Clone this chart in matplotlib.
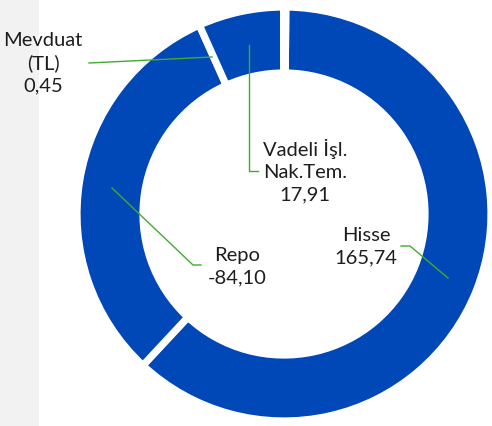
import numpy as np
import matplotlib.pyplot as plt
from matplotlib.patches import Rectangle

# Portfolio breakdown (values as shown on the chart)
names = ["Hisse", "Repo", "Vadeli İşl.\nNak.Tem.", "Mevduat\n(TL)"]
values = [165.74, -84.10, 17.91, 0.45]

W, H = 492, 426  # figure size in pixels
blue = "#0047B7"
green = "#3DAE2B"
txt_color = "#1E1E1E"

fig = plt.figure(figsize=(W / 100, H / 100), dpi=100)
ax = fig.add_axes([0, 0, 1, 1])

def py(y):
    # pixel row (from top) -> data y
    return H - y

# light grey band on the left
ax.add_patch(Rectangle((0, 0), 39, H, facecolor="#F2F2F2", edgecolor="none", zorder=0))

# donut
ax.pie(np.abs(values), startangle=89.5, counterclock=False,
       colors=[blue] * len(values), radius=207, center=(284, py(214)),
       wedgeprops=dict(width=66, edgecolor="white", linewidth=5.2))

# label texts and their leader lines (layout in pixels)
label_pos = [(366, 247), (237, 267), (305, 171), (43, 63)]
leaders = [
    [(401, 246), (410, 246), (448, 278)],
    [(112, 188), (193, 265), (201, 265)],
    [(249, 45), (249, 171), (258, 171)],
    [(89, 63), (212, 57)],
]

for name, val, (lx, ly), pts in zip(names, values, label_pos, leaders):
    s = name + "\n" + f"{val:.2f}".replace(".", ",")
    ax.text(lx, py(ly), s, ha="center", va="center", fontsize=14.5,
            family="Lato", color=txt_color, linespacing=1.36, zorder=5)
    xs = [p[0] for p in pts]
    ys = [py(p[1]) for p in pts]
    ax.plot(xs, ys, color=green, lw=1.0, zorder=4)

ax.set_xlim(0, W)
ax.set_ylim(0, H)
ax.set_aspect("auto")
ax.axis("off")

fig.savefig("out.png", dpi=100)
